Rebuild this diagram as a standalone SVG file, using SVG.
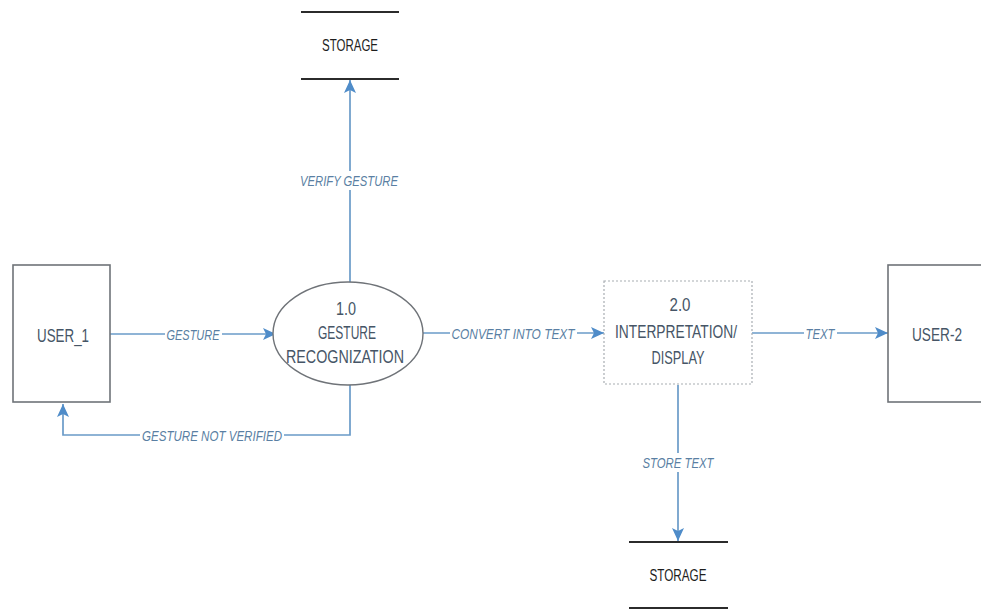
<svg xmlns="http://www.w3.org/2000/svg" width="981" height="610" viewBox="0 0 981 610">
<defs>
<marker id="arr" markerUnits="userSpaceOnUse" markerWidth="14" markerHeight="14" viewBox="0 0 14 14" refX="13" refY="7" orient="auto">
<path d="M0,1 L13,7 L0,13 L3,7 Z" fill="#4f8cc9"/>
</marker>
<style>
.bg{fill:#ffffff}
.ent{fill:#ffffff;stroke:#6f7378;stroke-width:1.6}
.proc{fill:#ffffff;stroke:#6f7378;stroke-width:1.4}
.dash{fill:#ffffff;stroke:#a8adb2;stroke-width:1.2;stroke-dasharray:2 2}
.store{stroke:#2b2b2b;stroke-width:2}
.flow{fill:none;stroke:#6a9bc8;stroke-width:1.7}
.nt{font-family:"Liberation Sans",Arial,sans-serif;font-size:18px;fill:#465566;text-anchor:middle;dominant-baseline:central}
.st{font-family:"Liberation Sans",Arial,sans-serif;font-size:16px;fill:#1e1e1e;text-anchor:middle;dominant-baseline:central}
.lt{font-family:"Liberation Sans",Arial,sans-serif;font-size:15px;font-style:italic;fill:#5a7fa3;text-anchor:middle;dominant-baseline:central}
</style>
</defs>
<rect class="bg" x="0" y="0" width="981" height="610"/>

<g id="connectors">
<line class="flow" x1="110" y1="334" x2="276" y2="334" marker-end="url(#arr)"/>
<line class="flow" x1="350" y1="282" x2="350" y2="80" marker-end="url(#arr)"/>
<polyline class="flow" points="350,385 350,435 63,435 63,404" marker-end="url(#arr)"/>
<line class="flow" x1="423" y1="333" x2="604" y2="333" marker-end="url(#arr)"/>
<line class="flow" x1="752" y1="333" x2="888" y2="333" marker-end="url(#arr)"/>
<line class="flow" x1="678" y1="385" x2="678" y2="541" marker-end="url(#arr)"/>

<rect class="bg" x="165" y="325" width="57" height="18"/>
<text class="lt" x="193" y="334" textLength="53" lengthAdjust="spacingAndGlyphs">GESTURE</text>
<rect class="bg" x="298" y="171" width="104" height="19"/>
<text class="lt" x="349" y="180" textLength="98" lengthAdjust="spacingAndGlyphs">VERIFY GESTURE</text>
<rect class="bg" x="140" y="426" width="144" height="18"/>
<text class="lt" x="212" y="435" textLength="140" lengthAdjust="spacingAndGlyphs">GESTURE NOT VERIFIED</text>
<rect class="bg" x="450" y="324" width="127" height="18"/>
<text class="lt" x="513" y="333" textLength="123" lengthAdjust="spacingAndGlyphs">CONVERT INTO TEXT</text>
<rect class="bg" x="804" y="324" width="33" height="18"/>
<text class="lt" x="820" y="333" textLength="29" lengthAdjust="spacingAndGlyphs">TEXT</text>
<rect class="bg" x="640" y="453" width="76" height="19"/>
<text class="lt" x="678" y="462" textLength="71" lengthAdjust="spacingAndGlyphs">STORE TEXT</text>
</g>

<g id="user1">
<rect class="ent" x="13" y="265" width="97" height="137"/>
<text class="nt" x="63" y="336" textLength="52" lengthAdjust="spacingAndGlyphs">USER_1</text>
</g>

<g id="p1">
<ellipse class="proc" cx="348" cy="333.5" rx="75" ry="51.5"/>
<text class="nt" x="346" y="309" textLength="20" lengthAdjust="spacingAndGlyphs">1.0</text>
<text class="nt" x="347" y="333" textLength="58" lengthAdjust="spacingAndGlyphs">GESTURE</text>
<text class="nt" x="345" y="357" textLength="118" lengthAdjust="spacingAndGlyphs">RECOGNIZATION</text>
</g>

<g id="p2">
<rect class="dash" x="604" y="281" width="148" height="103"/>
<text class="nt" x="680" y="305" textLength="21" lengthAdjust="spacingAndGlyphs">2.0</text>
<text class="nt" x="676" y="332" textLength="122" lengthAdjust="spacingAndGlyphs">INTERPRETATION/</text>
<text class="nt" x="678" y="358" textLength="53" lengthAdjust="spacingAndGlyphs">DISPLAY</text>
</g>

<g id="user2">
<rect class="ent" x="888" y="265" width="100" height="137"/>
<text class="nt" x="937" y="335" textLength="50" lengthAdjust="spacingAndGlyphs">USER-2</text>
</g>

<g id="storage1">
<line class="store" x1="301" y1="12" x2="399" y2="12"/>
<line class="store" x1="301" y1="79" x2="399" y2="79"/>
<text class="st" x="350" y="45" textLength="56" lengthAdjust="spacingAndGlyphs">STORAGE</text>
</g>

<g id="storage2">
<line class="store" x1="629" y1="542" x2="728" y2="542"/>
<line class="store" x1="629" y1="608" x2="728" y2="608"/>
<text class="st" x="678" y="575" textLength="57" lengthAdjust="spacingAndGlyphs">STORAGE</text>
</g>
</svg>
